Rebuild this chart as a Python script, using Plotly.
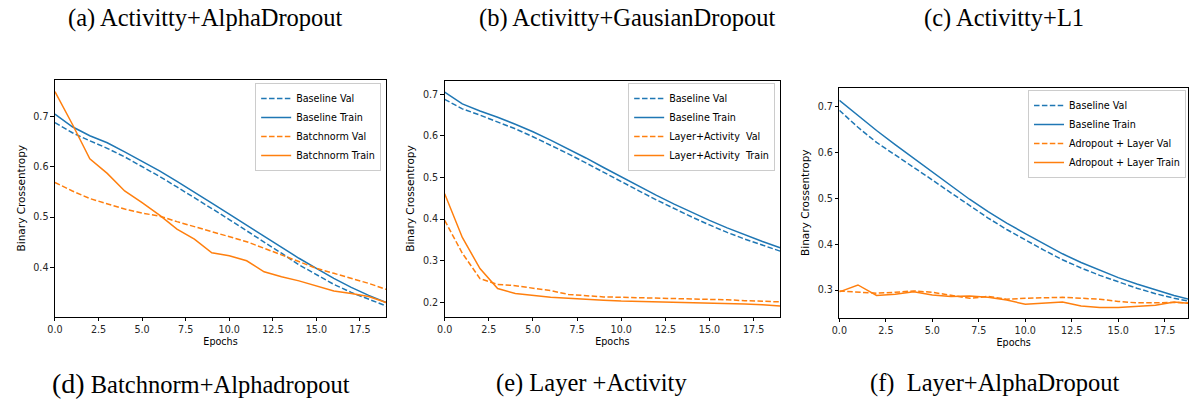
import plotly.graph_objects as go

epochs = list(range(20))

# Panel (d) Batchnorm+Alphadropout
d_base_val = [0.688, 0.668, 0.652, 0.637, 0.620, 0.601, 0.581, 0.560, 0.539, 0.517,
              0.495, 0.473, 0.450, 0.428, 0.405, 0.385, 0.366, 0.350, 0.336, 0.323]
d_base_train = [0.705, 0.680, 0.662, 0.648, 0.630, 0.611, 0.592, 0.571, 0.550, 0.528,
                0.506, 0.484, 0.462, 0.440, 0.418, 0.398, 0.378, 0.360, 0.344, 0.330]
d_exp_val = [0.569, 0.552, 0.537, 0.526, 0.516, 0.508, 0.502, 0.491, 0.481, 0.471,
             0.461, 0.451, 0.438, 0.425, 0.411, 0.398, 0.388, 0.378, 0.368, 0.356]
d_exp_train = [0.750, 0.685, 0.616, 0.587, 0.552, 0.529, 0.504, 0.476, 0.456, 0.429,
               0.423, 0.413, 0.391, 0.381, 0.373, 0.363, 0.353, 0.348, 0.342, 0.330]

# Panel (e) Layer +Activity
e_base_val = [0.688, 0.665, 0.650, 0.634, 0.617, 0.598, 0.578, 0.557, 0.535, 0.512,
              0.490, 0.468, 0.446, 0.425, 0.405, 0.386, 0.368, 0.352, 0.337, 0.323]
e_base_train = [0.705, 0.677, 0.660, 0.645, 0.628, 0.610, 0.590, 0.569, 0.547, 0.524,
                0.501, 0.479, 0.457, 0.436, 0.416, 0.397, 0.379, 0.362, 0.346, 0.331]
e_exp_val = [0.397, 0.318, 0.257, 0.243, 0.240, 0.234, 0.228, 0.219, 0.216, 0.213,
             0.212, 0.211, 0.210, 0.209, 0.209, 0.208, 0.206, 0.204, 0.202, 0.201]
e_exp_train = [0.461, 0.356, 0.281, 0.233, 0.221, 0.216, 0.212, 0.210, 0.207, 0.205,
               0.203, 0.202, 0.201, 0.200, 0.199, 0.199, 0.198, 0.196, 0.194, 0.191]

# Panel (f) Layer+AlphaDropout
f_base_val = [0.692, 0.655, 0.622, 0.595, 0.567, 0.540, 0.512, 0.484, 0.457, 0.432,
              0.409, 0.387, 0.366, 0.348, 0.332, 0.318, 0.304, 0.292, 0.282, 0.274]
f_base_train = [0.714, 0.680, 0.648, 0.617, 0.587, 0.557, 0.527, 0.498, 0.471, 0.446,
                0.423, 0.401, 0.379, 0.360, 0.343, 0.327, 0.313, 0.300, 0.288, 0.278]
f_exp_val = [0.298, 0.295, 0.293, 0.295, 0.298, 0.295, 0.289, 0.282, 0.286, 0.280,
             0.282, 0.283, 0.284, 0.282, 0.280, 0.275, 0.272, 0.272, 0.273, 0.271]
f_exp_train = [0.296, 0.311, 0.288, 0.291, 0.296, 0.289, 0.286, 0.287, 0.284, 0.278,
               0.269, 0.272, 0.274, 0.265, 0.262, 0.262, 0.265, 0.267, 0.274, 0.270]

panel_series = [
    (d_base_val, d_base_train, d_exp_val, d_exp_train,
     ["Baseline Val", "Baseline Train", "Batchnorm Val", "Batchnorm Train"]),
    (e_base_val, e_base_train, e_exp_val, e_exp_train,
     ["Baseline Val", "Baseline Train", "Layer+Activity  Val", "Layer+Activity  Train"]),
    (f_base_val, f_base_train, f_exp_val, f_exp_train,
     ["Baseline Val", "Baseline Train", "Adropout + Layer Val", "Adropout + Layer Train"]),
]

top_captions = ["(a) Activitty+AlphaDropout", "(b) Activitty+GausianDropout", "(c) Activitty+L1"]
bottom_captions = ["<span style='font-size:28px'>(d)</span> Batchnorm+Alphadropout",
                   "(e) Layer +Activity", "(f)  Layer+AlphaDropout"]
x_tickvals = [0, 2.5, 5, 7.5, 10, 12.5, 15, 17.5]
x_ticktext = ["0.0", "2.5", "5.0", "7.5", "10.0", "12.5", "15.0", "17.5"]

W, H = 1189, 401
BLUE = "#1f77b4"
ORANGE = "#ff7f0e"
DASH = "5.5px,2.4px"

# geometry in pixels: (left, right, top, bottom)
boxes = [(47.3, 381.0, 80.3, 316.7), (440.0, 778.0, 81.0, 316.7), (837.7, 1189.0, 88.3, 317.7)]
yranges = [[0.3016, 0.7725], [0.1654, 0.732], [0.2396, 0.740]]
xranges = [[0, 19], [0, 19], [0, 18.75]]
legend_pos = [(376, 83), (773, 83), (1187, 90)]
ytitle_x = [13, 405, 803]
top_cap_x = [199, 624, 1004]
bot_cap_x = [194, 588, 994]

fig = go.Figure()
tickfont = dict(family="DejaVu Sans", size=9.6, color="#262626")

for i, (bv, bt, ev, et, names) in enumerate(panel_series):
    n = "" if i == 0 else str(i + 1)
    xa, ya = "x" + n, "y" + n
    leg = "legend" + n
    styles = [(bv, BLUE, DASH), (bt, BLUE, "solid"), (ev, ORANGE, DASH), (et, ORANGE, "solid")]
    for (vals, col, dash), name in zip(styles, names):
        fig.add_trace(go.Scatter(x=epochs, y=vals, mode="lines", name=name,
                                 line=dict(color=col, width=1.5, dash=dash),
                                 xaxis=xa, yaxis=ya, legend=leg))
    l, r, t, b = boxes[i]
    common = dict(showline=True, linecolor="#000", linewidth=1, mirror=True,
                  ticks="outside", ticklen=3.5, tickwidth=0.8, tickcolor="#000",
                  showgrid=False, zeroline=False, tickfont=tickfont)
    fig.layout["xaxis" + n] = dict(domain=[l / W, r / W], range=xranges[i], anchor=ya,
                                   tickmode="array", tickvals=x_tickvals, ticktext=x_ticktext,
                                   title=dict(text="Epochs", font=dict(family="DejaVu Sans", size=9.6, color="#000"), standoff=4),
                                   **common)
    fig.layout["yaxis" + n] = dict(domain=[1 - b / H, 1 - t / H], range=yranges[i], anchor=xa,
                                   dtick=0.1, tickformat=".1f", **common)
    lx, ly = legend_pos[i]
    fig.layout[leg] = dict(x=lx / W, y=1 - ly / H, xanchor="right", yanchor="top",
                           bgcolor="rgba(255,255,255,0.8)", bordercolor="#cccccc", borderwidth=1,
                           font=dict(family="DejaVu Sans", size=9.6, color="#000"),
                           itemwidth=30, tracegroupgap=0)
    fig.add_annotation(text="Binary Crossentropy", xref="paper", yref="paper",
                       x=ytitle_x[i] / W, y=1 - ((t + b) / 2) / H, textangle=-90,
                       showarrow=False, xanchor="center", yanchor="middle",
                       font=dict(family="DejaVu Sans", size=10.5, color="#000"))
    fig.add_annotation(text=top_captions[i], xref="paper", yref="paper",
                       x=top_cap_x[i] / W, y=1 - 18 / H, showarrow=False,
                       xanchor="center", yanchor="middle",
                       font=dict(family="Liberation Serif", size=24.5, color="#000"))
    fig.add_annotation(text=bottom_captions[i], xref="paper", yref="paper",
                       x=bot_cap_x[i] / W, y=1 - 383 / H, showarrow=False,
                       xanchor="center", yanchor="middle",
                       font=dict(family="Liberation Serif", size=24.5, color="#000"))

fig.update_layout(width=W, height=H, margin=dict(l=0, r=0, t=0, b=0),
                  paper_bgcolor="white", plot_bgcolor="white", showlegend=True)

fig.write_html("out.html")
